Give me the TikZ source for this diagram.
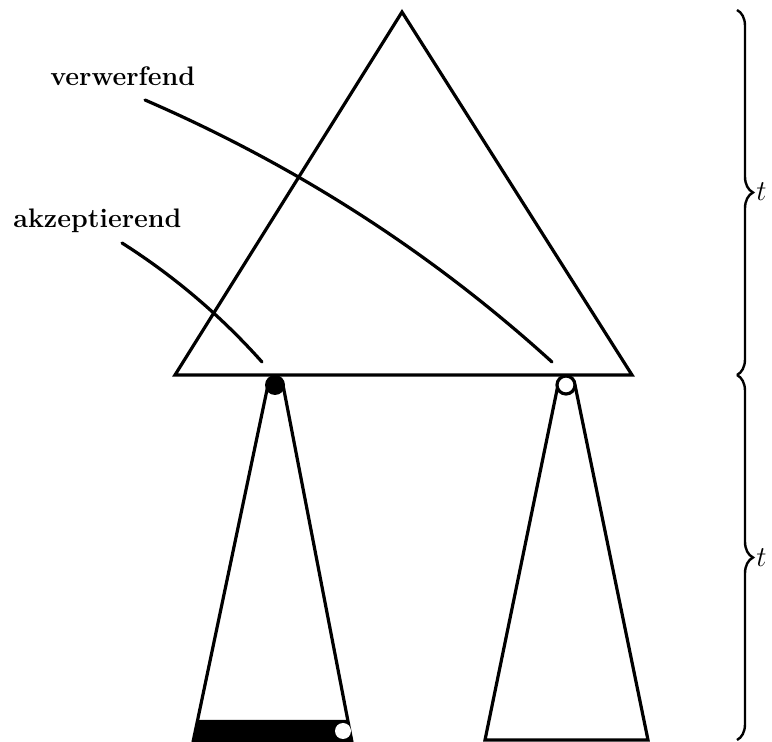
\documentclass[tikz,border=0pt]{standalone}
\usepackage{amsmath}
\usetikzlibrary{decorations.pathreplacing}
\tikzset{
  trline/.style={line width=1.6pt, line join=miter},
  ptrline/.style={line width=1.6pt, line cap=round},
  lblnode/.style={
    font=\fontsize{13.4}{16}\selectfont\bfseries,
    inner sep=0pt, anchor=base west
  },
  tnode/.style={
    font=\fontsize{13.4}{16}\selectfont,
    inner sep=0pt, anchor=west
  },
  brcline/.style={
    line width=1.2pt, decorate,
    decoration={brace, amplitude=8pt}
  },
}

\begin{document}
\begin{tikzpicture}[x=0.5pt, y=-0.5pt]
  \useasboundingbox (0,0) rectangle (772,742);
  \coordinate (top) at (402,12);
  \coordinate (bl) at (175,375);
  \coordinate (br) at (632,375);
  \coordinate (acc) at (275,385);
  \coordinate (rej) at (566,385);
  \draw[trline] (bl) -- (top) -- (br) -- cycle;
  \fill (197,720) -- (348,720) -- (352,742) -- (193,742) -- cycle;
  \draw[trline] (268,385) -- (193,742);
  \draw[trline] (283,385) -- (352,742);
  \draw[trline] (558,385) -- (485,740) -- (648,740) -- (575,385);
  \fill (acc) circle[radius=5pt];
  \draw[trline, fill=white] (rej) circle[radius=4.5pt];
  \fill[white] (343,731) circle[radius=4pt];
  \node[lblnode] (verw) at (50,86) {verwerfend};
  \node[lblnode] (akz) at (13,228) {akzeptierend};
  \coordinate (verwa) at (145,100);
  \coordinate (verwb) at (552,362);
  \coordinate (akza) at (122,243);
  \coordinate (akzb) at (262,362);
  \draw[ptrline] (verwa) .. controls (295,165) and (431,252) .. (verwb);
  \draw[ptrline] (akza) .. controls (174,276) and (221,316) .. (akzb);
  \draw[brcline] (737,10) -- (737,375);
  \draw[brcline] (737,375) -- (737,740);
  \node[tnode] (tup) at (756,192) {$t$};
  \node[tnode] (tlow) at (756,558) {$t$};
\end{tikzpicture}
\end{document}
